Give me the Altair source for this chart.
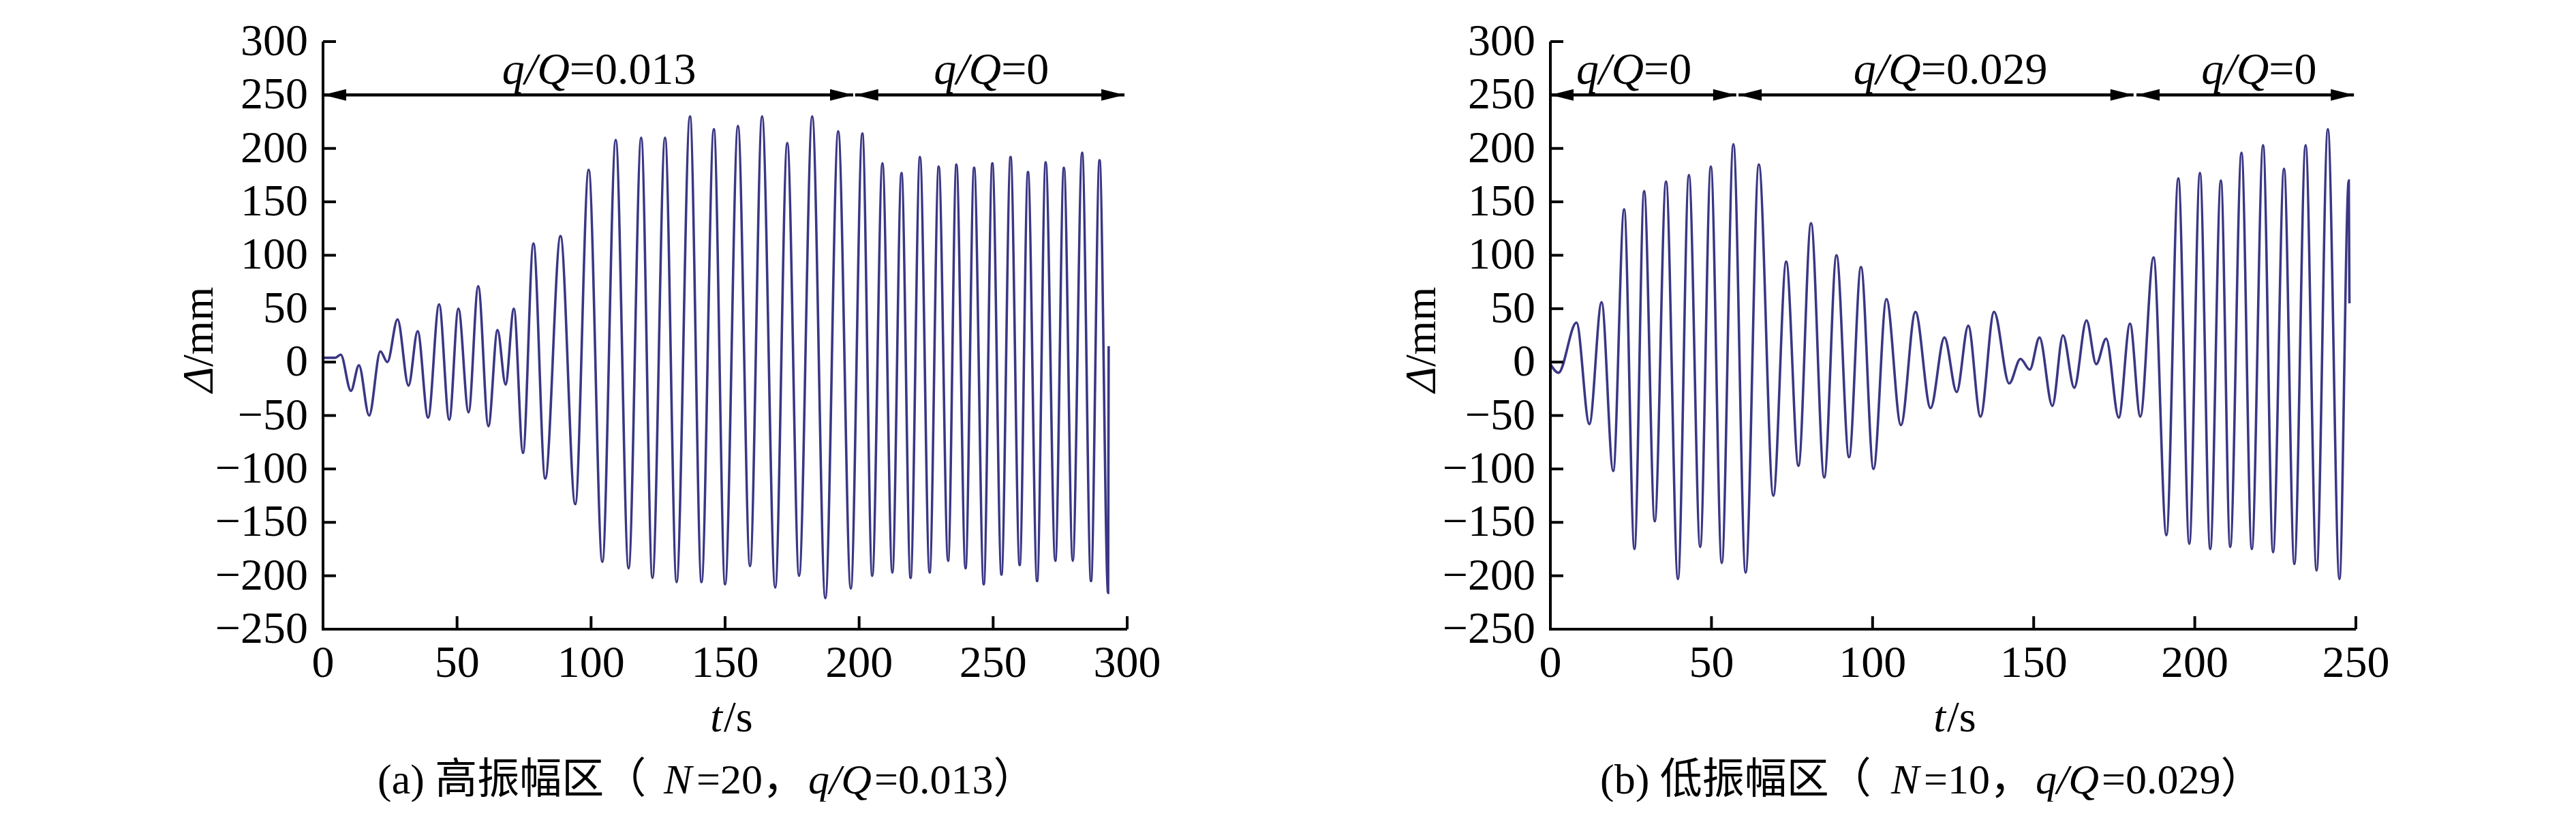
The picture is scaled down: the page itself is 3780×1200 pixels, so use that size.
import altair as alt
import pandas as pd

# ---------------- data ----------------
A_T = [0, 4.5, 6.6, 10.4, 13.4, 17.2, 21.4, 24.0, 27.8, 31.9, 35.3, 39.2, 43.3, 47.1, 50.5, 54.3,
       57.9, 61.7, 65.1, 68.1, 71.2, 74.6, 78.5, 82.9, 88.6, 94.1, 99.1, 104.2, 109.2, 114.0, 118.7,
       122.9, 127.6, 131.9, 136.9, 141.2, 145.8, 150.0, 154.8, 159.3, 163.8, 168.7, 173.2, 177.6,
       182.5, 187.4, 192.2, 196.9, 201.2, 204.9, 208.7, 212.4, 215.8, 219.2, 222.7, 226.3, 229.7,
       233.2, 236.3, 239.7, 242.9, 246.5, 249.7, 253.1, 256.5, 259.9, 263.0, 266.4, 269.6, 273.2,
       276.4, 279.7, 283.2, 286.5, 289.7, 292.9, 293.1]
A_V = [4, 4, 7, -27, -3, -50, 10, 0, 40, -22, 29, -52, 54, -54, 50, -47,
       71, -60, 30, -21, 50, -85, 111, -109, 118, -133, 180, -187, 208, -193, 210,
       -202, 210, -206, 230, -206, 218, -208, 221, -191, 230, -211, 205, -200,
       230, -221, 216, -212, 214, -200, 186, -197, 177, -202, 192, -197, 183,
       -186, 185, -193, 182, -208, 186, -199, 192, -190, 178, -205, 187, -186,
       182, -186, 196, -205, 189, -216, 15]

B_T = [0, 2.5, 8.1, 12.1, 15.9, 19.5, 22.9, 26.1, 29.1, 32.4, 35.9, 39.6, 43.0, 46.5, 49.8, 53.2,
       56.8, 60.6, 64.7, 69.2, 73.2, 77.0, 80.9, 85.0, 88.8, 92.7, 96.4, 100.3, 104.3, 108.8,
       113.3, 118.0, 122.3, 126.1, 129.7, 133.5, 137.7, 142.4, 145.9, 148.8, 151.8, 155.8, 159.1,
       162.6, 166.4, 169.4, 172.5, 176.4, 179.9, 183.1, 187.2, 191.2, 194.9, 198.3, 201.6, 204.8,
       208.1, 211.0, 214.5, 217.7, 221.2, 224.3, 227.7, 230.9, 234.4, 237.8, 241.3, 244.9, 247.8,
       248.0]
B_V = [-2, -10, 37, -58, 56, -102, 143, -175, 160, -149, 169, -203, 175, -173, 183, -188,
       204, -197, 185, -125, 94, -97, 130, -108, 100, -89, 89, -100, 59, -59,
       47, -43, 23, -28, 34, -51, 47, -20, 3, -7, 23, -41, 25,
       -24, 39, -2, 22, -52, 36, -51, 98, -162, 172, -170, 177, -175,
       170, -173, 196, -175, 203, -178, 181, -189, 203, -195, 218, -203, 170,
       55]

Y_TICKS = [-250, -200, -150, -100, -50, 0, 50, 100, 150, 200, 250, 300]
A_X_TICKS = [0, 50, 100, 150, 200, 250, 300]
B_X_TICKS = [0, 50, 100, 150, 200, 250]

ARROW_LEVEL = 250
A_ARROW_START = [0, 198.5]
A_ARROW_END = [197.8, 299.0]
A_LABEL_AT = [92, 253]
A_LABEL_VAL = ["=0.013", "=0"]

B_ARROW_START = [0, 58.4, 181.9]
B_ARROW_END = [57.7, 181.0, 249.4]
B_LABEL_AT = [29, 115, 223]
B_LABEL_VAL = ["=0", "=0.029", "=0"]

A_CAPTION = [("(a) 高振幅区（", "normal"), ("N", "italic"), ("=20，", "normal"),
             ("q/Q", "italic"), ("=0.013）", "normal")]
B_CAPTION = [("(b) 低振幅区（", "normal"), ("N", "italic"), ("=10，", "normal"),
             ("q/Q", "italic"), ("=0.029）", "normal")]

# ---------------- style ----------------
SERIF = "Liberation Serif"
CJK = "Liberation Serif, Noto Sans CJK SC"
LINE = "#3a3784"
FS = 66
H = 862
TICK_LEN = 19

LEFT_TRI = "M 0 0 L 2 -0.5 L 2 0.5 Z"
RIGHT_TRI = "M 0 0 L -2 -0.5 L -2 0.5 Z"


def one():
    return pd.DataFrame({"k": [0]})


def panel(t, v, xmax, xticks, a_s, a_e, lab_at, lab_val, caption, cap_x, W, ytitle_x, xtitle_x):
    xs = alt.Scale(domain=[0, xmax], nice=False, zero=False)
    ys = alt.Scale(domain=[-250, 300], nice=False, zero=False)

    line = alt.Chart(pd.DataFrame({"t": t, "v": v})).mark_line(
        interpolate="monotone", color=LINE, strokeWidth=3.6
    ).encode(
        x=alt.X("t:Q", scale=xs, axis=None),
        y=alt.Y("v:Q", scale=ys, axis=None),
    )

    # axis lines
    ydom = alt.Chart(one()).mark_rule(color="black", strokeWidth=4).encode(
        x=alt.value(0), y=alt.value(0), y2=alt.value(H))
    xdom = alt.Chart(one()).mark_rule(color="black", strokeWidth=4).encode(
        x=alt.value(-2), x2=alt.value(W), y=alt.value(H))

    # inward ticks and tick labels
    ydf = pd.DataFrame({"v": Y_TICKS})
    xdf = pd.DataFrame({"t": xticks})
    yt = alt.Chart(ydf).mark_rule(color="black", strokeWidth=4).encode(
        y=alt.Y("v:Q", scale=ys, axis=None), x=alt.value(0), x2=alt.value(TICK_LEN))
    xt = alt.Chart(xdf).mark_rule(color="black", strokeWidth=4).encode(
        x=alt.X("t:Q", scale=xs, axis=None), y=alt.value(H), y2=alt.value(H - TICK_LEN))
    ylab = alt.Chart(ydf).mark_text(font=SERIF, fontSize=FS, align="right", baseline="middle",
                                    color="black", dx=-22).encode(
        y=alt.Y("v:Q", scale=ys, axis=None), x=alt.value(0), text=alt.Text("v:Q", format="d"))
    xlab = alt.Chart(xdf).mark_text(font=SERIF, fontSize=FS, align="center", baseline="top",
                                    color="black").encode(
        x=alt.X("t:Q", scale=xs, axis=None), y=alt.value(H + 18), text=alt.Text("t:Q", format="d"))

    arr = pd.DataFrame({"s": a_s, "e": a_e})
    shafts = alt.Chart(arr).mark_rule(color="black", strokeWidth=4.5).encode(
        x=alt.X("s:Q", scale=xs, axis=None), x2="e:Q", y=alt.datum(ARROW_LEVEL))
    lheads = alt.Chart(arr).mark_point(shape=LEFT_TRI, filled=True, size=1156, color="black",
                                       opacity=1, strokeWidth=0).encode(
        x=alt.X("s:Q", scale=xs, axis=None), y=alt.datum(ARROW_LEVEL))
    rheads = alt.Chart(arr).mark_point(shape=RIGHT_TRI, filled=True, size=1156, color="black",
                                       opacity=1, strokeWidth=0).encode(
        x=alt.X("e:Q", scale=xs, axis=None), y=alt.datum(ARROW_LEVEL))

    labs = pd.DataFrame({"p": lab_at, "val": lab_val})
    lab_q = alt.Chart(labs).mark_text(text="q/Q", font=SERIF, fontSize=FS, fontStyle="italic",
                                      align="right", baseline="alphabetic", dy=-16,
                                      color="black").encode(
        x=alt.X("p:Q", scale=xs, axis=None), y=alt.datum(ARROW_LEVEL))
    lab_v = alt.Chart(labs).mark_text(font=SERIF, fontSize=FS, align="left",
                                      baseline="alphabetic", dy=-16, color="black").encode(
        x=alt.X("p:Q", scale=xs, axis=None), y=alt.datum(ARROW_LEVEL), text="val:N")

    # axis titles
    yt1 = alt.Chart(one()).mark_text(text="Δ", font=SERIF, fontSize=64, fontStyle="italic",
                                     angle=270, align="right", baseline="middle",
                                     color="black").encode(x=alt.value(ytitle_x), y=alt.value(477))
    yt2 = alt.Chart(one()).mark_text(text="/mm", font=SERIF, fontSize=64, angle=270,
                                     align="left", baseline="middle",
                                     color="black").encode(x=alt.value(ytitle_x), y=alt.value(477))
    xt1 = alt.Chart(one()).mark_text(text="t", font=SERIF, fontSize=64, fontStyle="italic",
                                     align="right", baseline="middle",
                                     color="black").encode(x=alt.value(xtitle_x), y=alt.value(993))
    xt2 = alt.Chart(one()).mark_text(text="/s", font=SERIF, fontSize=64, align="left",
                                     baseline="middle",
                                     color="black").encode(x=alt.value(xtitle_x + 2), y=alt.value(993))

    caps = []
    for (txt, style), cx in zip(caption, cap_x):
        caps.append(alt.Chart(one()).mark_text(text=txt, font=CJK, fontSize=62, fontStyle=style,
                                               align="left", baseline="middle",
                                               color="black").encode(
            x=alt.value(cx), y=alt.value(1084)))

    return alt.layer(line, ydom, xdom, yt, xt, ylab, xlab, shafts, lheads, rheads, lab_q, lab_v,
                     yt1, yt2, xt1, xt2, *caps).properties(width=W, height=H)


pa = panel(A_T, A_V, 300, A_X_TICKS, A_ARROW_START, A_ARROW_END, A_LABEL_AT, A_LABEL_VAL,
           A_CAPTION, [80, 500, 548, 712, 809], 1180, -181, 586)
pb = panel(B_T, B_V, 250, B_X_TICKS, B_ARROW_START, B_ARROW_END, B_LABEL_AT, B_LABEL_VAL,
           B_CAPTION, [73, 500, 548, 712, 809], 1182, -188, 580)

chart = alt.hconcat(pa, pb, spacing=351).properties(
    padding={"left": 253, "top": 20, "right": 0, "bottom": 0},
    background="white",
).configure_view(stroke=None)

chart.save("out.html", embed_options={"renderer": "svg", "actions": False})
